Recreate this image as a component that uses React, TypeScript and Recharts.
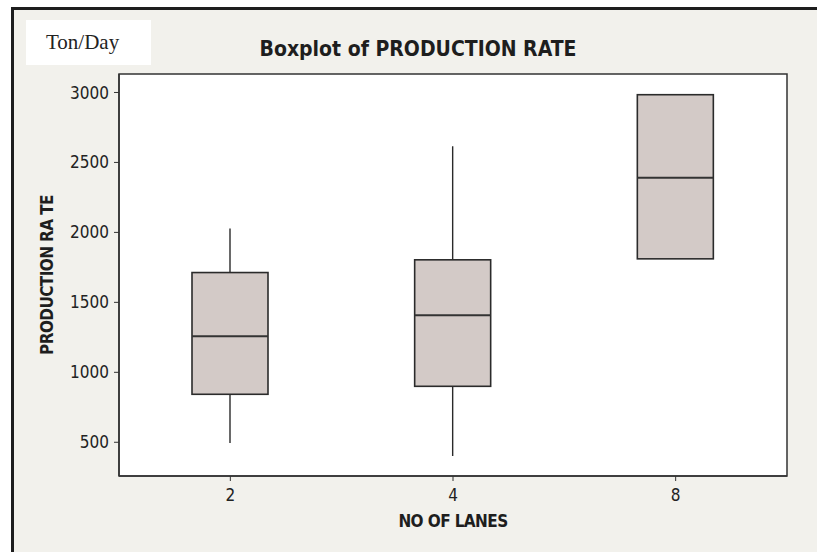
import React from 'react'
import { ComposedChart, Bar, XAxis, YAxis, CartesianGrid, ReferenceArea } from 'recharts'

// number of lanes on the x axis
const lanes = ['2', '4', '8']

// five-number summaries (ton/day)
const whiskerLow = [495, 402, 1811]
const q1 = [843, 900, 1811]
const median = [1258, 1408, 2390]
const q3 = [1713, 1804, 2984]
const whiskerHigh = [2028, 2616, 2984]

const yTicks = [500, 1000, 1500, 2000, 2500, 3000]
const yDomain = [259, 3132]

const data = lanes.map((lane, i) => ({
  lanes: lane,
  range: [whiskerLow[i], whiskerHigh[i]],
  q1: q1[i],
  median: median[i],
  q3: q3[i],
}))

const FONT = '"DejaVu Sans Condensed", "DejaVu Sans", sans-serif'

// draws whisker, box and median line inside the bar's [low, high] geometry
function BoxShape(props: any) {
  const { x, y, width, height, payload } = props
  const [lo, hi] = payload.range
  const k = hi === lo ? 0 : height / (hi - lo)
  const py = (v: number) => y + (hi - v) * k
  const cx = x + width / 2
  return (
    <g>
      <line x1={cx} x2={cx} y1={py(hi)} y2={py(lo)} stroke="#2a2a2a" strokeWidth={1.4} />
      <rect
        x={x}
        y={py(payload.q3)}
        width={width}
        height={py(payload.q1) - py(payload.q3)}
        fill="#d3cac7"
        stroke="#2b2b2b"
        strokeWidth={1.6}
      />
      <line x1={x} x2={x + width} y1={py(payload.median)} y2={py(payload.median)} stroke="#333" strokeWidth={2} />
    </g>
  )
}

export default function App() {
  return (
    <div style={{ position: 'absolute', left: 0, top: 0, width: 817, height: 552, overflow: 'hidden', background: '#fff' }}>
      <div
        style={{
          position: 'absolute',
          left: 11,
          top: 7,
          width: 840,
          height: 542,
          background: '#f2f1ec',
          borderTop: '3px solid #1e1e1e',
          borderLeft: '3px solid #1e1e1e',
          borderBottom: '2px solid #555',
        }}
      />
      <div
        style={{
          position: 'absolute',
          left: 26,
          top: 20,
          width: 125,
          height: 45,
          background: '#fff',
        }}
      >
        <span
          style={{
            position: 'absolute',
            left: 20,
            top: 12,
            fontFamily: '"Liberation Serif", serif',
            fontSize: 21,
            lineHeight: 1,
            color: '#222',
            whiteSpace: 'nowrap',
          }}
        >
          Ton/Day
        </span>
      </div>
      <div
        style={{
          position: 'absolute',
          left: 218,
          top: 39,
          width: 400,
          textAlign: 'center',
          fontFamily: FONT,
          fontWeight: 'bold',
          fontSize: 21,
          lineHeight: 1,
          color: '#1e1e1e',
          whiteSpace: 'nowrap',
        }}
      >
        Boxplot of PRODUCTION RATE
      </div>
      <div style={{ position: 'absolute', left: 0, top: 0 }}>
        <ComposedChart width={817} height={552} data={data} margin={{ top: 74, right: 30, bottom: 21, left: 29 }}>
          <CartesianGrid horizontal={false} vertical={false} fill="#fff" />
          <XAxis
            dataKey="lanes"
            type="category"
            height={55}
            tickSize={5}
            tickMargin={8}
            axisLine={{ stroke: '#333', strokeWidth: 1.5 }}
            tickLine={{ stroke: '#333' }}
            tick={{ fill: '#222', fontSize: 17, fontFamily: FONT }}
            label={{
              value: 'NO OF LANES',
              position: 'insideBottom',
              offset: 4,
              fill: '#1e1e1e',
              fontSize: 17,
              fontWeight: 'bold',
              fontFamily: FONT,
              letterSpacing: -0.6,
            }}
          />
          <YAxis
            type="number"
            domain={yDomain}
            ticks={yTicks}
            width={90}
            tickSize={5}
            tickMargin={5}
            axisLine={{ stroke: '#333', strokeWidth: 1.5 }}
            tickLine={{ stroke: '#333' }}
            tick={{ fill: '#222', fontSize: 17, fontFamily: FONT }}
            label={{
              value: 'PRODUCTION RA TE',
              angle: -90,
              position: 'insideLeft',
              offset: 18,
              textAnchor: 'middle',
              fill: '#1e1e1e',
              fontSize: 17,
              fontWeight: 'bold',
              fontFamily: FONT,
              letterSpacing: -0.6,
            }}
          />
          {/* plot frame */}
          <ReferenceArea
            y1={yDomain[0]}
            y2={yDomain[1]}
            fill="none"
            fillOpacity={0}
            stroke="#333"
            strokeWidth={1.5}
          />
          <Bar dataKey="range" barSize={76} shape={BoxShape} isAnimationActive={false} />
        </ComposedChart>
      </div>
    </div>
  )
}
